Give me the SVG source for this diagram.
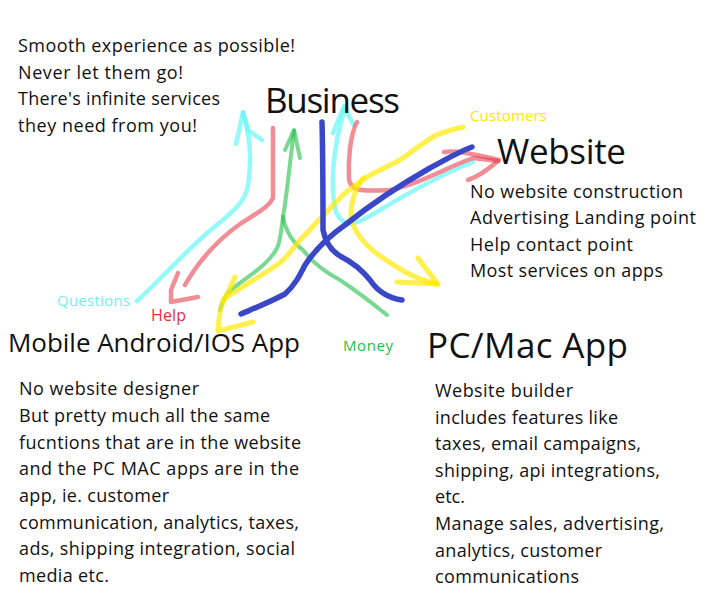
<svg xmlns="http://www.w3.org/2000/svg" width="710" height="599" viewBox="0 0 710 599">
<style>
text{font-family:"Open Sans","Noto Sans","DejaVu Sans",sans-serif;fill:#111;}
.b{font-size:18px;}
.h{font-size:35px;}
.m{font-size:26px;}
.l{font-size:15px;}
.s{fill:none;stroke-linecap:round;stroke-linejoin:round;}
.cy{stroke:#66f7f7;stroke-opacity:0.7;stroke-width:4.5;}
.rd{stroke:#e5303f;stroke-opacity:0.55;stroke-width:4.5;}
.gr{stroke:#1fc04a;stroke-opacity:0.6;stroke-width:4;}
.ye{stroke:#ffea00;stroke-opacity:0.7;stroke-width:5;}
.bl{stroke:#3a48c8;stroke-width:5.5;}
</style>
<rect width="710" height="599" fill="#fff"/>
<g id="connectors">
  <!-- cyan: Questions arrow -->
  <path class="s cy" d="M137,301 C160,280 182,255 205,235 C228,215 245,205 248,185 C252,160 250,135 243,113"/>
  <path class="s cy" d="M236,144 L243,112 L248,130 L262,140"/>
  <!-- cyan: Website to Business -->
  <path class="s cy" d="M473,162 C440,175 410,192 380,210 C360,222 345,232 336,212 C330,190 332,150 345,108"/>
  <path class="s cy" d="M333,133 L344,106 L353,124"/>
  <!-- red: Help arrow -->
  <path class="s rd" d="M273,128 L273,198 C268,208 258,212 240,224 C215,242 198,262 185,285"/>
  <path class="s rd" d="M178,273 L171,290 L171,302 L198,297"/>
  <!-- red: Website arrow -->
  <path class="s rd" d="M357,122 C350,135 348,160 349,180 C352,192 362,191 390,190 C420,184 445,168 473,158 L498,161"/>
  <path class="s rd" d="M444,152 C455,150 468,153 499,160 C490,168 480,176 468,180"/>
  <!-- green -->
  <path class="s gr" d="M294,131 C290,160 287,195 283,217 C281,232 280,243 277,248 C270,262 255,272 240,283 C228,291 222,300 220,310"/>
  <path class="s gr" d="M283,217 C286,232 292,242 303,250 C312,262 325,272 340,280 C355,290 372,303 387,315"/>
  <path class="s gr" d="M285,150 L294,130 L300,158"/>
  <!-- yellow: Customers to Mobile -->
  <path class="s ye" d="M463,127 C450,130 440,133 433,137 C420,145 410,153 400,160 C385,168 375,172 367,177 C355,186 345,192 340,198 C325,213 312,228 300,240 C292,250 285,260 277,265 C262,275 245,285 233,293 C228,296 225,298 223,300"/>
  <path class="s ye" d="M235,277 C230,290 222,300 220,312 C219,320 218,326 218,331 L253,322"/>
  <!-- yellow: Business to PC/Mac -->
  <path class="s ye" d="M363,178 C355,188 350,205 351,218 C355,235 368,248 383,258 C398,268 412,278 437,284"/>
  <path class="s ye" d="M418,258 C425,268 432,276 438,284 L397,282"/>
  <!-- blue -->
  <path class="s bl" d="M322,122 C323,160 323,200 323,230 C325,240 330,250 340,256 C352,262 362,270 370,280 C378,292 388,298 402,300"/>
  <path class="s bl" d="M241,314 C255,308 270,302 285,294 C295,285 300,275 305,265 C315,250 328,237 345,225 C370,205 400,185 430,168 C445,160 458,152 472,147"/>
</g>
<g id="notes">
  <text class="b" x="18" y="52" textLength="277">Smooth experience as possible!</text>
  <text class="b" x="18" y="79" textLength="165">Never let them go!</text>
  <text class="b" x="18" y="105" textLength="202">There's infinite services</text>
  <text class="b" x="18" y="132" textLength="179">they need from you!</text>
</g>
<g id="business">
  <text class="h" x="265" y="113" textLength="135">Business</text>
</g>
<g id="website">
  <text class="h" x="497" y="164" textLength="129">Website</text>
  <text class="b" x="470" y="198" textLength="213">No website construction</text>
  <text class="b" x="470" y="224" textLength="226">Advertising Landing point</text>
  <text class="b" x="470" y="251" textLength="163">Help contact point</text>
  <text class="b" x="470" y="277" textLength="193">Most services on apps</text>
</g>
<g id="mobile">
  <text class="m" x="8" y="352" textLength="292">Mobile Android/IOS App</text>
  <text class="b" x="19" y="395" textLength="180">No website designer</text>
  <text class="b" x="19" y="422" textLength="251">But pretty much all the same</text>
  <text class="b" x="19" y="449" textLength="282">fucntions that are in the website</text>
  <text class="b" x="19" y="475" textLength="280">and the PC MAC apps are in the</text>
  <text class="b" x="19" y="502" textLength="150">app, ie. customer</text>
  <text class="b" x="19" y="529" textLength="280">communication, analytics, taxes,</text>
  <text class="b" x="19" y="555" textLength="276">ads, shipping integration, social</text>
  <text class="b" x="19" y="582" textLength="90">media etc.</text>
</g>
<g id="pcmac">
  <text class="h" x="427" y="358" textLength="201">PC/Mac App</text>
  <text class="b" x="435" y="397" textLength="138">Website builder</text>
  <text class="b" x="435" y="424" textLength="183">includes features like</text>
  <text class="b" x="435" y="450" textLength="206">taxes, email campaigns,</text>
  <text class="b" x="435" y="477" textLength="225">shipping, api integrations,</text>
  <text class="b" x="435" y="503" textLength="30">etc.</text>
  <text class="b" x="435" y="530" textLength="229">Manage sales, advertising,</text>
  <text class="b" x="435" y="557" textLength="167">analytics, customer</text>
  <text class="b" x="435" y="583" textLength="144">communications</text>
</g>
<g id="labels">
  <text class="l" x="470" y="121" textLength="77" style="fill:#ffe600">Customers</text>
  <text class="l" x="57" y="306" textLength="73" style="fill:#6ff0f0">Questions</text>
  <text class="l" x="151" y="321" textLength="35" style="fill:#e5303f;font-size:16px">Help</text>
  <text class="l" x="343" y="351" textLength="50" style="fill:#1fc04a">Money</text>
</g>
</svg>
